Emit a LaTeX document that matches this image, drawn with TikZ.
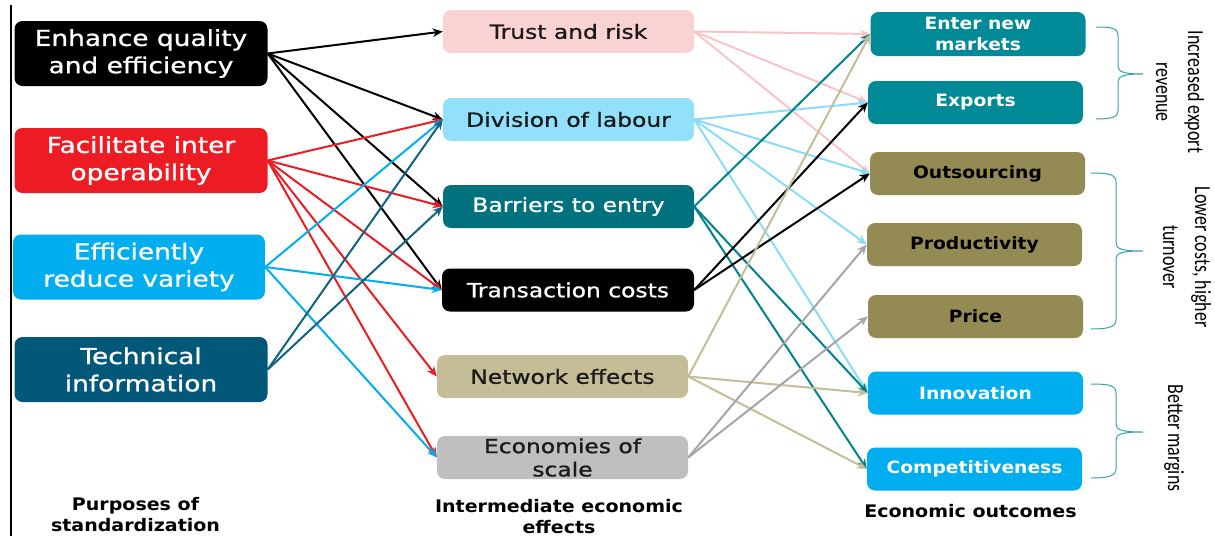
\documentclass[tikz,border=0pt]{standalone}
\usepackage{fontspec}
\usetikzlibrary{arrows.meta}
\newfontfamily\regf{DejaVu Sans}[FakeStretch=1.2,FakeBold=1]
\newfontfamily\bldf{DejaVu Sans}[FakeStretch=1.1]
\newfontfamily\brf{Carlito}[FakeStretch=0.78]
\definecolor{enhc}{HTML}{000000}
\definecolor{facc}{HTML}{ED1C24}
\definecolor{effc}{HTML}{00AEEF}
\definecolor{tecc}{HTML}{03587A}
\definecolor{tecl}{HTML}{116380}
\definecolor{truc}{HTML}{F9D2D4}
\definecolor{trul}{HTML}{F7C5C9}
\definecolor{divc}{HTML}{93E0FC}
\definecolor{divl}{HTML}{8CDBF9}
\definecolor{barc}{HTML}{00717D}
\definecolor{barl}{HTML}{00838F}
\definecolor{netc}{HTML}{C4BD97}
\definecolor{netl}{HTML}{C4BD97}
\definecolor{ecoc}{HTML}{BFBFBF}
\definecolor{ecol}{HTML}{A6A6A6}
\definecolor{tealc}{HTML}{008A98}
\definecolor{olivc}{HTML}{948A54}
\definecolor{innc}{HTML}{00AEEF}
\definecolor{darktxt}{HTML}{1A1A1A}
\definecolor{bracec}{HTML}{3C9EB0}
\begin{document}
\begin{tikzpicture}[x=1pt,y=-1pt,
  box/.style={rounded corners=8pt, inner sep=0pt, align=center},
  lbox/.style={box, minimum width=253pt, minimum height=65pt, font=\regf\fontsize{22}{27.3}\selectfont},
  mbox/.style={box, minimum width=251pt, minimum height=43pt, font=\regf\fontsize{19.5}{23.3}\selectfont},
  rbox/.style={box, minimum width=215pt, minimum height=43pt, font=\bldf\bfseries\fontsize{17}{20.7}\selectfont},
  caplab/.style={align=center, inner sep=0pt, font=\bldf\bfseries\fontsize{17.3}{21}\selectfont},
  conn/.style={line width=2pt, -{Stealth[length=10pt,width=8.5pt]}},
  bracepath/.style={draw=bracec, line width=1pt},
  btext/.style={rotate=-90, align=center, inner sep=0pt, font=\brf\fontsize{23}{32}\selectfont}]
\useasboundingbox (0,0) rectangle (1215,536);
\fill[white] (0,0) rectangle (1215,536);

\draw[line width=1.3pt] (11,5) -- (11,536);

% left column
\node[lbox, fill=enhc, text=white] (enh) at (141,53.5) {Enhance quality\\and efficiency};
\node[lbox, fill=facc, text=white] (fac) at (141,160.5) {Facilitate inter\\operability};
\node[lbox, fill=effc, text=white, minimum width=252pt] (eff) at (139,267) {Efficiently\\reduce variety};
\node[lbox, fill=tecc, text=white] (tec) at (141,369.5) {Technical\\information};

% middle column
\node[mbox, fill=truc, text=darktxt] (trust) at (568.5,31.5) {Trust and risk};
\node[mbox, fill=divc, text=darktxt] (div) at (568.5,119.5) {Division of labour};
\node[mbox, fill=barc, text=white] (bar) at (568.5,206.5) {Barriers to entry};
\node[mbox, fill=black, text=white, minimum width=252pt] (tra) at (568,290) {Transaction costs};
\node[mbox, fill=netc, text=darktxt] (net) at (562.5,376.5) {Network effects};
\node[mbox, fill=ecoc, text=darktxt] (eco) at (562.5,457.5) {Economies of\\scale};

% right column
\node[rbox, fill=tealc, text=white, minimum height=44pt] (ent) at (978,34) {Enter new\\markets};
\node[rbox, fill=tealc, text=white] (exp) at (975.5,102.5) {Exports};
\node[rbox, fill=olivc, text=black] (out) at (977.5,173.5) {Outsourcing};
\node[rbox, fill=olivc, text=black] (pro) at (974.5,244.5) {Productivity};
\node[rbox, fill=olivc, text=black] (pri) at (975.5,316.5) {Price};
\node[rbox, fill=innc, text=white] (inn) at (975.5,393) {Innovation};
\node[rbox, fill=innc, text=white] (com) at (974.5,469) {Competitiveness};

% column captions
\node[caplab] (lab1) at (135.5,515) {Purposes of\\standardization};
\node[caplab] (lab2) at (559,516.5) {Intermediate economic\\effects};
\node[caplab] (lab3) at (970.5,511) {Economic outcomes};

% connectors left -> middle
\foreach \t in {trust,div,bar,tra} \draw[conn, color=enhc] (enh.east) -- (\t.west);
\foreach \t in {div,bar,tra,net,eco} \draw[conn, color=facc] (fac.east) -- (\t.west);
\foreach \t in {div,tra,eco} \draw[conn, color=effc] (eff.east) -- (\t.west);
\foreach \t in {div,bar} \draw[conn, color=tecl] (tec.east) -- (\t.west);

% connectors middle -> right
\foreach \t in {ent,exp,out} \draw[conn, color=trul] (trust.east) -- (\t.west);
\foreach \t in {exp,out,pro,inn} \draw[conn, color=divl] (div.east) -- (\t.west);
\foreach \t in {ent,inn,com} \draw[conn, color=barl] (bar.east) -- (\t.west);
\foreach \t in {exp,out} \draw[conn, color=black] (tra.east) -- (\t.west);
\foreach \t in {ent,inn,com} \draw[conn, color=netl] (net.east) -- (\t.west);
\foreach \t in {pro,pri} \draw[conn, color=ecol] (eco.east) -- (\t.west);

% braces
\draw[bracepath] (1096,27) .. controls (1112,27) and (1118,28) .. (1118,36) -- (1118,66)
  .. controls (1118,72) and (1124,74) .. (1143,74)
  .. controls (1124,74) and (1118,76) .. (1118,82) -- (1118,111)
  .. controls (1118,117) and (1112,119) .. (1096,119);
\draw[bracepath] (1091,173) .. controls (1108,173) and (1116,174) .. (1116,182) -- (1116,243)
  .. controls (1116,249) and (1122,251) .. (1143,251)
  .. controls (1122,251) and (1116,253) .. (1116,259) -- (1116,320)
  .. controls (1116,327) and (1108,329) .. (1091,329);
\draw[bracepath] (1091,384) .. controls (1108,384) and (1116,385) .. (1116,393) -- (1116,424)
  .. controls (1116,430) and (1122,432) .. (1143,432)
  .. controls (1122,432) and (1116,434) .. (1116,440) -- (1116,469)
  .. controls (1116,476) and (1108,478) .. (1091,478);

\node[btext] (bt1) at (1180,92) {Increased export\\revenue};
\node[btext] (bt2) at (1187,257) {Lower costs, higher\\turnover};
\node[btext] (bt3) at (1174,438) {Better margins};
\end{tikzpicture}
\end{document}
